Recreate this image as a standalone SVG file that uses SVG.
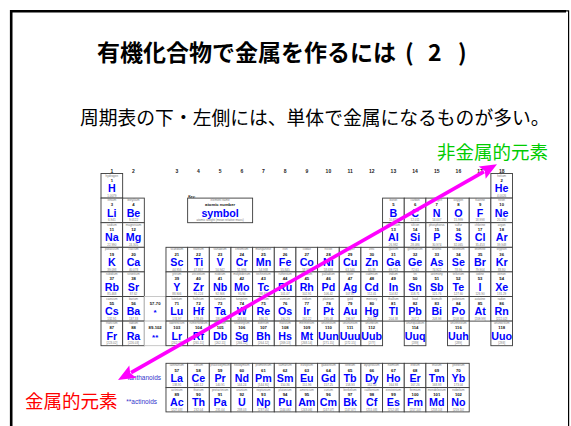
<svg xmlns="http://www.w3.org/2000/svg" width="571" height="426" viewBox="0 0 571 426">
<style>
.c{fill:#fff;stroke:#3a3a3a;stroke-width:0.9}
.cl{fill:#fff;stroke:#bbb;stroke-width:0.8}
text{font-family:"Liberation Sans",Arial,sans-serif;text-anchor:middle}
.n{font-size:3px;fill:#777}
.m{font-size:3px;fill:#777}
.z{font-size:4.2px;font-weight:bold;fill:#111}
.s{font-size:10.7px;font-weight:bold;fill:#0000ff}
.g{font-size:5px;font-weight:bold;fill:#222}
.st{font-size:5px;fill:#222}
.lab{font-size:6.5px;fill:#3333cc}
.jp{font-family:"Noto Sans CJK JP","Noto Sans CJK SC",sans-serif;text-anchor:start}
</style>
<defs>
<marker id="ah" markerUnits="userSpaceOnUse" markerWidth="18" markerHeight="14" refX="2" refY="7" orient="auto-start-reverse" overflow="visible">
<path d="M0,0 L17,7 L0,14 L3,7 z" fill="#ff00ff"/>
</marker>
</defs>
<g id="frame" fill="none" stroke="#000">
<path d="M11.2,426 V11.2 H566" stroke-width="2.6"/>
<path d="M566,10.8 H568.6 V426" stroke-width="1.2"/>
</g>
<g id="title"><text class="jp" x="97" y="61" font-size="23" font-weight="bold" fill="#000">有機化合物で金属を作るには<tspan x="405">(</tspan><tspan x="428">2</tspan><tspan x="458">)</tspan></text></g>
<g id="subtitle"><text class="jp" x="80" y="125" font-size="18.8" fill="#000">周期表の下・左側には、単体で金属になるものが多い。</text></g>
<g id="groups">
<text class="g" x="111.8" y="172.8">1</text><text class="g" x="133.5" y="172.8">2</text><text class="g" x="176.8" y="172.8">3</text><text class="g" x="198.5" y="172.8">4</text><text class="g" x="220.1" y="172.8">5</text><text class="g" x="241.8" y="172.8">6</text><text class="g" x="263.5" y="172.8">7</text><text class="g" x="285.1" y="172.8">8</text><text class="g" x="306.8" y="172.8">9</text><text class="g" x="328.4" y="172.8">10</text><text class="g" x="350.1" y="172.8">11</text><text class="g" x="371.8" y="172.8">12</text><text class="g" x="393.4" y="172.8">13</text><text class="g" x="415.1" y="172.8">14</text><text class="g" x="436.7" y="172.8">15</text><text class="g" x="458.4" y="172.8">16</text><text class="g" x="480.1" y="172.8">17</text><text class="g" x="501.7" y="172.8">18</text>
</g>
<g id="key" transform="translate(187.64,198.1)">
<text class="st" x="0.5" y="0" style="text-anchor:start;font-size:3.4px;font-weight:bold">Key:</text>
<rect class="c" width="64.98" height="24.6"/>
<text class="n" x="32.5" y="3">element name</text>
<text class="z" x="32.5" y="8.3">atomic number</text>
<text class="s" x="32.5" y="19.2">symbol</text>
<text class="m" x="32.5" y="23.3">atomic weight (mean relative mass)</text>
</g>
<g id="periodic-table">
<g id="H" transform="translate(101,173.5)"><rect class="c" width="21.66" height="24.6"/><text class="n" x="10.83" y="3">hydrogen</text><text class="z" x="10.83" y="8.3">1</text><text class="s" x="10.83" y="18.7">H</text><text class="m" x="10.83" y="23.3">1.0079</text></g>
<g id="He" transform="translate(490.88,173.5)"><rect class="c" width="21.66" height="24.6"/><text class="n" x="10.83" y="3">helium</text><text class="z" x="10.83" y="8.3">2</text><text class="s" x="10.83" y="18.7">He</text><text class="m" x="10.83" y="23.3">4.0026</text></g>
<g id="Li" transform="translate(101,198.1)"><rect class="c" width="21.66" height="24.6"/><text class="n" x="10.83" y="3">lithium</text><text class="z" x="10.83" y="8.3">3</text><text class="s" x="10.83" y="18.7">Li</text><text class="m" x="10.83" y="23.3">6.941</text></g>
<g id="Be" transform="translate(122.66,198.1)"><rect class="c" width="21.66" height="24.6"/><text class="n" x="10.83" y="3">beryllium</text><text class="z" x="10.83" y="8.3">4</text><text class="s" x="10.83" y="18.7">Be</text><text class="m" x="10.83" y="23.3">9.0122</text></g>
<g id="B" transform="translate(382.58,198.1)"><rect class="c" width="21.66" height="24.6"/><text class="n" x="10.83" y="3">boron</text><text class="z" x="10.83" y="8.3">5</text><text class="s" x="10.83" y="18.7">B</text><text class="m" x="10.83" y="23.3">10.811</text></g>
<g id="C" transform="translate(404.24,198.1)"><rect class="c" width="21.66" height="24.6"/><text class="n" x="10.83" y="3">carbon</text><text class="z" x="10.83" y="8.3">6</text><text class="s" x="10.83" y="18.7">C</text><text class="m" x="10.83" y="23.3">12.011</text></g>
<g id="N" transform="translate(425.9,198.1)"><rect class="c" width="21.66" height="24.6"/><text class="n" x="10.83" y="3">nitrogen</text><text class="z" x="10.83" y="8.3">7</text><text class="s" x="10.83" y="18.7">N</text><text class="m" x="10.83" y="23.3">14.007</text></g>
<g id="O" transform="translate(447.56,198.1)"><rect class="c" width="21.66" height="24.6"/><text class="n" x="10.83" y="3">oxygen</text><text class="z" x="10.83" y="8.3">8</text><text class="s" x="10.83" y="18.7">O</text><text class="m" x="10.83" y="23.3">15.999</text></g>
<g id="F" transform="translate(469.22,198.1)"><rect class="c" width="21.66" height="24.6"/><text class="n" x="10.83" y="3">fluorine</text><text class="z" x="10.83" y="8.3">9</text><text class="s" x="10.83" y="18.7">F</text><text class="m" x="10.83" y="23.3">18.998</text></g>
<g id="Ne" transform="translate(490.88,198.1)"><rect class="c" width="21.66" height="24.6"/><text class="n" x="10.83" y="3">neon</text><text class="z" x="10.83" y="8.3">10</text><text class="s" x="10.83" y="18.7">Ne</text><text class="m" x="10.83" y="23.3">20.180</text></g>
<g id="Na" transform="translate(101,222.7)"><rect class="c" width="21.66" height="24.6"/><text class="n" x="10.83" y="3">sodium</text><text class="z" x="10.83" y="8.3">11</text><text class="s" x="10.83" y="18.7">Na</text><text class="m" x="10.83" y="23.3">22.990</text></g>
<g id="Mg" transform="translate(122.66,222.7)"><rect class="c" width="21.66" height="24.6"/><text class="n" x="10.83" y="3">magnesium</text><text class="z" x="10.83" y="8.3">12</text><text class="s" x="10.83" y="18.7">Mg</text><text class="m" x="10.83" y="23.3">24.305</text></g>
<g id="Al" transform="translate(382.58,222.7)"><rect class="c" width="21.66" height="24.6"/><text class="n" x="10.83" y="3">aluminium</text><text class="z" x="10.83" y="8.3">13</text><text class="s" x="10.83" y="18.7">Al</text><text class="m" x="10.83" y="23.3">26.982</text></g>
<g id="Si" transform="translate(404.24,222.7)"><rect class="c" width="21.66" height="24.6"/><text class="n" x="10.83" y="3">silicon</text><text class="z" x="10.83" y="8.3">14</text><text class="s" x="10.83" y="18.7">Si</text><text class="m" x="10.83" y="23.3">28.086</text></g>
<g id="P" transform="translate(425.9,222.7)"><rect class="c" width="21.66" height="24.6"/><text class="n" x="10.83" y="3">phosphorus</text><text class="z" x="10.83" y="8.3">15</text><text class="s" x="10.83" y="18.7">P</text><text class="m" x="10.83" y="23.3">30.974</text></g>
<g id="S" transform="translate(447.56,222.7)"><rect class="c" width="21.66" height="24.6"/><text class="n" x="10.83" y="3">sulfur</text><text class="z" x="10.83" y="8.3">16</text><text class="s" x="10.83" y="18.7">S</text><text class="m" x="10.83" y="23.3">32.065</text></g>
<g id="Cl" transform="translate(469.22,222.7)"><rect class="c" width="21.66" height="24.6"/><text class="n" x="10.83" y="3">chlorine</text><text class="z" x="10.83" y="8.3">17</text><text class="s" x="10.83" y="18.7">Cl</text><text class="m" x="10.83" y="23.3">35.453</text></g>
<g id="Ar" transform="translate(490.88,222.7)"><rect class="c" width="21.66" height="24.6"/><text class="n" x="10.83" y="3">argon</text><text class="z" x="10.83" y="8.3">18</text><text class="s" x="10.83" y="18.7">Ar</text><text class="m" x="10.83" y="23.3">39.948</text></g>
<g id="K" transform="translate(101,247.3)"><rect class="c" width="21.66" height="24.6"/><text class="n" x="10.83" y="3">potassium</text><text class="z" x="10.83" y="8.3">19</text><text class="s" x="10.83" y="18.7">K</text><text class="m" x="10.83" y="23.3">39.098</text></g>
<g id="Ca" transform="translate(122.66,247.3)"><rect class="c" width="21.66" height="24.6"/><text class="n" x="10.83" y="3">calcium</text><text class="z" x="10.83" y="8.3">20</text><text class="s" x="10.83" y="18.7">Ca</text><text class="m" x="10.83" y="23.3">40.078</text></g>
<g id="Sc" transform="translate(165.98,247.3)"><rect class="c" width="21.66" height="24.6"/><text class="n" x="10.83" y="3">scandium</text><text class="z" x="10.83" y="8.3">21</text><text class="s" x="10.83" y="18.7">Sc</text><text class="m" x="10.83" y="23.3">44.956</text></g>
<g id="Ti" transform="translate(187.64,247.3)"><rect class="c" width="21.66" height="24.6"/><text class="n" x="10.83" y="3">titanium</text><text class="z" x="10.83" y="8.3">22</text><text class="s" x="10.83" y="18.7">Ti</text><text class="m" x="10.83" y="23.3">47.867</text></g>
<g id="V" transform="translate(209.3,247.3)"><rect class="c" width="21.66" height="24.6"/><text class="n" x="10.83" y="3">vanadium</text><text class="z" x="10.83" y="8.3">23</text><text class="s" x="10.83" y="18.7">V</text><text class="m" x="10.83" y="23.3">50.942</text></g>
<g id="Cr" transform="translate(230.96,247.3)"><rect class="c" width="21.66" height="24.6"/><text class="n" x="10.83" y="3">chromium</text><text class="z" x="10.83" y="8.3">24</text><text class="s" x="10.83" y="18.7">Cr</text><text class="m" x="10.83" y="23.3">51.996</text></g>
<g id="Mn" transform="translate(252.62,247.3)"><rect class="c" width="21.66" height="24.6"/><text class="n" x="10.83" y="3">manganese</text><text class="z" x="10.83" y="8.3">25</text><text class="s" x="10.83" y="18.7">Mn</text><text class="m" x="10.83" y="23.3">54.938</text></g>
<g id="Fe" transform="translate(274.28,247.3)"><rect class="c" width="21.66" height="24.6"/><text class="n" x="10.83" y="3">iron</text><text class="z" x="10.83" y="8.3">26</text><text class="s" x="10.83" y="18.7">Fe</text><text class="m" x="10.83" y="23.3">55.845</text></g>
<g id="Co" transform="translate(295.94,247.3)"><rect class="c" width="21.66" height="24.6"/><text class="n" x="10.83" y="3">cobalt</text><text class="z" x="10.83" y="8.3">27</text><text class="s" x="10.83" y="18.7">Co</text><text class="m" x="10.83" y="23.3">58.933</text></g>
<g id="Ni" transform="translate(317.6,247.3)"><rect class="c" width="21.66" height="24.6"/><text class="n" x="10.83" y="3">nickel</text><text class="z" x="10.83" y="8.3">28</text><text class="s" x="10.83" y="18.7">Ni</text><text class="m" x="10.83" y="23.3">58.693</text></g>
<g id="Cu" transform="translate(339.26,247.3)"><rect class="c" width="21.66" height="24.6"/><text class="n" x="10.83" y="3">copper</text><text class="z" x="10.83" y="8.3">29</text><text class="s" x="10.83" y="18.7">Cu</text><text class="m" x="10.83" y="23.3">63.546</text></g>
<g id="Zn" transform="translate(360.92,247.3)"><rect class="c" width="21.66" height="24.6"/><text class="n" x="10.83" y="3">zinc</text><text class="z" x="10.83" y="8.3">30</text><text class="s" x="10.83" y="18.7">Zn</text><text class="m" x="10.83" y="23.3">65.39</text></g>
<g id="Ga" transform="translate(382.58,247.3)"><rect class="c" width="21.66" height="24.6"/><text class="n" x="10.83" y="3">gallium</text><text class="z" x="10.83" y="8.3">31</text><text class="s" x="10.83" y="18.7">Ga</text><text class="m" x="10.83" y="23.3">69.723</text></g>
<g id="Ge" transform="translate(404.24,247.3)"><rect class="c" width="21.66" height="24.6"/><text class="n" x="10.83" y="3">germanium</text><text class="z" x="10.83" y="8.3">32</text><text class="s" x="10.83" y="18.7">Ge</text><text class="m" x="10.83" y="23.3">72.61</text></g>
<g id="As" transform="translate(425.9,247.3)"><rect class="c" width="21.66" height="24.6"/><text class="n" x="10.83" y="3">arsenic</text><text class="z" x="10.83" y="8.3">33</text><text class="s" x="10.83" y="18.7">As</text><text class="m" x="10.83" y="23.3">74.922</text></g>
<g id="Se" transform="translate(447.56,247.3)"><rect class="c" width="21.66" height="24.6"/><text class="n" x="10.83" y="3">selenium</text><text class="z" x="10.83" y="8.3">34</text><text class="s" x="10.83" y="18.7">Se</text><text class="m" x="10.83" y="23.3">78.96</text></g>
<g id="Br" transform="translate(469.22,247.3)"><rect class="c" width="21.66" height="24.6"/><text class="n" x="10.83" y="3">bromine</text><text class="z" x="10.83" y="8.3">35</text><text class="s" x="10.83" y="18.7">Br</text><text class="m" x="10.83" y="23.3">79.904</text></g>
<g id="Kr" transform="translate(490.88,247.3)"><rect class="c" width="21.66" height="24.6"/><text class="n" x="10.83" y="3">krypton</text><text class="z" x="10.83" y="8.3">36</text><text class="s" x="10.83" y="18.7">Kr</text><text class="m" x="10.83" y="23.3">83.80</text></g>
<g id="Rb" transform="translate(101,271.9)"><rect class="c" width="21.66" height="24.6"/><text class="n" x="10.83" y="3">rubidium</text><text class="z" x="10.83" y="8.3">37</text><text class="s" x="10.83" y="18.7">Rb</text><text class="m" x="10.83" y="23.3">85.468</text></g>
<g id="Sr" transform="translate(122.66,271.9)"><rect class="c" width="21.66" height="24.6"/><text class="n" x="10.83" y="3">strontium</text><text class="z" x="10.83" y="8.3">38</text><text class="s" x="10.83" y="18.7">Sr</text><text class="m" x="10.83" y="23.3">87.62</text></g>
<g id="Y" transform="translate(165.98,271.9)"><rect class="c" width="21.66" height="24.6"/><text class="n" x="10.83" y="3">yttrium</text><text class="z" x="10.83" y="8.3">39</text><text class="s" x="10.83" y="18.7">Y</text><text class="m" x="10.83" y="23.3">88.906</text></g>
<g id="Zr" transform="translate(187.64,271.9)"><rect class="c" width="21.66" height="24.6"/><text class="n" x="10.83" y="3">zirconium</text><text class="z" x="10.83" y="8.3">40</text><text class="s" x="10.83" y="18.7">Zr</text><text class="m" x="10.83" y="23.3">91.224</text></g>
<g id="Nb" transform="translate(209.3,271.9)"><rect class="c" width="21.66" height="24.6"/><text class="n" x="10.83" y="3">niobium</text><text class="z" x="10.83" y="8.3">41</text><text class="s" x="10.83" y="18.7">Nb</text><text class="m" x="10.83" y="23.3">92.906</text></g>
<g id="Mo" transform="translate(230.96,271.9)"><rect class="c" width="21.66" height="24.6"/><text class="n" x="10.83" y="3">molybdenum</text><text class="z" x="10.83" y="8.3">42</text><text class="s" x="10.83" y="18.7">Mo</text><text class="m" x="10.83" y="23.3">95.94</text></g>
<g id="Tc" transform="translate(252.62,271.9)"><rect class="c" width="21.66" height="24.6"/><text class="n" x="10.83" y="3">technetium</text><text class="z" x="10.83" y="8.3">43</text><text class="s" x="10.83" y="18.7">Tc</text><text class="m" x="10.83" y="23.3">[98.91]</text></g>
<g id="Ru" transform="translate(274.28,271.9)"><rect class="c" width="21.66" height="24.6"/><text class="n" x="10.83" y="3">ruthenium</text><text class="z" x="10.83" y="8.3">44</text><text class="s" x="10.83" y="18.7">Ru</text><text class="m" x="10.83" y="23.3">101.07</text></g>
<g id="Rh" transform="translate(295.94,271.9)"><rect class="c" width="21.66" height="24.6"/><text class="n" x="10.83" y="3">rhodium</text><text class="z" x="10.83" y="8.3">45</text><text class="s" x="10.83" y="18.7">Rh</text><text class="m" x="10.83" y="23.3">102.91</text></g>
<g id="Pd" transform="translate(317.6,271.9)"><rect class="c" width="21.66" height="24.6"/><text class="n" x="10.83" y="3">palladium</text><text class="z" x="10.83" y="8.3">46</text><text class="s" x="10.83" y="18.7">Pd</text><text class="m" x="10.83" y="23.3">106.42</text></g>
<g id="Ag" transform="translate(339.26,271.9)"><rect class="c" width="21.66" height="24.6"/><text class="n" x="10.83" y="3">silver</text><text class="z" x="10.83" y="8.3">47</text><text class="s" x="10.83" y="18.7">Ag</text><text class="m" x="10.83" y="23.3">107.87</text></g>
<g id="Cd" transform="translate(360.92,271.9)"><rect class="c" width="21.66" height="24.6"/><text class="n" x="10.83" y="3">cadmium</text><text class="z" x="10.83" y="8.3">48</text><text class="s" x="10.83" y="18.7">Cd</text><text class="m" x="10.83" y="23.3">112.41</text></g>
<g id="In" transform="translate(382.58,271.9)"><rect class="c" width="21.66" height="24.6"/><text class="n" x="10.83" y="3">indium</text><text class="z" x="10.83" y="8.3">49</text><text class="s" x="10.83" y="18.7">In</text><text class="m" x="10.83" y="23.3">114.82</text></g>
<g id="Sn" transform="translate(404.24,271.9)"><rect class="c" width="21.66" height="24.6"/><text class="n" x="10.83" y="3">tin</text><text class="z" x="10.83" y="8.3">50</text><text class="s" x="10.83" y="18.7">Sn</text><text class="m" x="10.83" y="23.3">118.71</text></g>
<g id="Sb" transform="translate(425.9,271.9)"><rect class="c" width="21.66" height="24.6"/><text class="n" x="10.83" y="3">antimony</text><text class="z" x="10.83" y="8.3">51</text><text class="s" x="10.83" y="18.7">Sb</text><text class="m" x="10.83" y="23.3">121.76</text></g>
<g id="Te" transform="translate(447.56,271.9)"><rect class="c" width="21.66" height="24.6"/><text class="n" x="10.83" y="3">tellurium</text><text class="z" x="10.83" y="8.3">52</text><text class="s" x="10.83" y="18.7">Te</text><text class="m" x="10.83" y="23.3">127.60</text></g>
<g id="I" transform="translate(469.22,271.9)"><rect class="c" width="21.66" height="24.6"/><text class="n" x="10.83" y="3">iodine</text><text class="z" x="10.83" y="8.3">53</text><text class="s" x="10.83" y="18.7">I</text><text class="m" x="10.83" y="23.3">126.90</text></g>
<g id="Xe" transform="translate(490.88,271.9)"><rect class="c" width="21.66" height="24.6"/><text class="n" x="10.83" y="3">xenon</text><text class="z" x="10.83" y="8.3">54</text><text class="s" x="10.83" y="18.7">Xe</text><text class="m" x="10.83" y="23.3">131.29</text></g>
<g id="Cs" transform="translate(101,296.5)"><rect class="c" width="21.66" height="24.6"/><text class="n" x="10.83" y="3">caesium</text><text class="z" x="10.83" y="8.3">55</text><text class="s" x="10.83" y="18.7">Cs</text><text class="m" x="10.83" y="23.3">132.91</text></g>
<g id="Ba" transform="translate(122.66,296.5)"><rect class="c" width="21.66" height="24.6"/><text class="n" x="10.83" y="3">barium</text><text class="z" x="10.83" y="8.3">56</text><text class="s" x="10.83" y="18.7">Ba</text><text class="m" x="10.83" y="23.3">137.33</text></g>
<g id="lan-ref" transform="translate(144.32,296.5)"><rect class="cl" width="21.66" height="24.6"/><text class="z" x="10.83" y="8.3">57-70</text><text class="s" x="10.83" y="18.7" style="font-size:8px">*</text></g>
<g id="Lu" transform="translate(165.98,296.5)"><rect class="c" width="21.66" height="24.6"/><text class="n" x="10.83" y="3">lutetium</text><text class="z" x="10.83" y="8.3">71</text><text class="s" x="10.83" y="18.7">Lu</text><text class="m" x="10.83" y="23.3">174.97</text></g>
<g id="Hf" transform="translate(187.64,296.5)"><rect class="c" width="21.66" height="24.6"/><text class="n" x="10.83" y="3">hafnium</text><text class="z" x="10.83" y="8.3">72</text><text class="s" x="10.83" y="18.7">Hf</text><text class="m" x="10.83" y="23.3">178.49</text></g>
<g id="Ta" transform="translate(209.3,296.5)"><rect class="c" width="21.66" height="24.6"/><text class="n" x="10.83" y="3">tantalum</text><text class="z" x="10.83" y="8.3">73</text><text class="s" x="10.83" y="18.7">Ta</text><text class="m" x="10.83" y="23.3">180.95</text></g>
<g id="W" transform="translate(230.96,296.5)"><rect class="c" width="21.66" height="24.6"/><text class="n" x="10.83" y="3">tungsten</text><text class="z" x="10.83" y="8.3">74</text><text class="s" x="10.83" y="18.7">W</text><text class="m" x="10.83" y="23.3">183.84</text></g>
<g id="Re" transform="translate(252.62,296.5)"><rect class="c" width="21.66" height="24.6"/><text class="n" x="10.83" y="3">rhenium</text><text class="z" x="10.83" y="8.3">75</text><text class="s" x="10.83" y="18.7">Re</text><text class="m" x="10.83" y="23.3">186.21</text></g>
<g id="Os" transform="translate(274.28,296.5)"><rect class="c" width="21.66" height="24.6"/><text class="n" x="10.83" y="3">osmium</text><text class="z" x="10.83" y="8.3">76</text><text class="s" x="10.83" y="18.7">Os</text><text class="m" x="10.83" y="23.3">190.23</text></g>
<g id="Ir" transform="translate(295.94,296.5)"><rect class="c" width="21.66" height="24.6"/><text class="n" x="10.83" y="3">iridium</text><text class="z" x="10.83" y="8.3">77</text><text class="s" x="10.83" y="18.7">Ir</text><text class="m" x="10.83" y="23.3">192.22</text></g>
<g id="Pt" transform="translate(317.6,296.5)"><rect class="c" width="21.66" height="24.6"/><text class="n" x="10.83" y="3">platinum</text><text class="z" x="10.83" y="8.3">78</text><text class="s" x="10.83" y="18.7">Pt</text><text class="m" x="10.83" y="23.3">195.08</text></g>
<g id="Au" transform="translate(339.26,296.5)"><rect class="c" width="21.66" height="24.6"/><text class="n" x="10.83" y="3">gold</text><text class="z" x="10.83" y="8.3">79</text><text class="s" x="10.83" y="18.7">Au</text><text class="m" x="10.83" y="23.3">196.97</text></g>
<g id="Hg" transform="translate(360.92,296.5)"><rect class="c" width="21.66" height="24.6"/><text class="n" x="10.83" y="3">mercury</text><text class="z" x="10.83" y="8.3">80</text><text class="s" x="10.83" y="18.7">Hg</text><text class="m" x="10.83" y="23.3">200.59</text></g>
<g id="Tl" transform="translate(382.58,296.5)"><rect class="c" width="21.66" height="24.6"/><text class="n" x="10.83" y="3">thallium</text><text class="z" x="10.83" y="8.3">81</text><text class="s" x="10.83" y="18.7">Tl</text><text class="m" x="10.83" y="23.3">204.38</text></g>
<g id="Pb" transform="translate(404.24,296.5)"><rect class="c" width="21.66" height="24.6"/><text class="n" x="10.83" y="3">lead</text><text class="z" x="10.83" y="8.3">82</text><text class="s" x="10.83" y="18.7">Pb</text><text class="m" x="10.83" y="23.3">207.2</text></g>
<g id="Bi" transform="translate(425.9,296.5)"><rect class="c" width="21.66" height="24.6"/><text class="n" x="10.83" y="3">bismuth</text><text class="z" x="10.83" y="8.3">83</text><text class="s" x="10.83" y="18.7">Bi</text><text class="m" x="10.83" y="23.3">208.98</text></g>
<g id="Po" transform="translate(447.56,296.5)"><rect class="c" width="21.66" height="24.6"/><text class="n" x="10.83" y="3">polonium</text><text class="z" x="10.83" y="8.3">84</text><text class="s" x="10.83" y="18.7">Po</text><text class="m" x="10.83" y="23.3">[208.98]</text></g>
<g id="At" transform="translate(469.22,296.5)"><rect class="c" width="21.66" height="24.6"/><text class="n" x="10.83" y="3">astatine</text><text class="z" x="10.83" y="8.3">85</text><text class="s" x="10.83" y="18.7">At</text><text class="m" x="10.83" y="23.3">[209.99]</text></g>
<g id="Rn" transform="translate(490.88,296.5)"><rect class="c" width="21.66" height="24.6"/><text class="n" x="10.83" y="3">radon</text><text class="z" x="10.83" y="8.3">86</text><text class="s" x="10.83" y="18.7">Rn</text><text class="m" x="10.83" y="23.3">[222.02]</text></g>
<g id="Fr" transform="translate(101,321.1)"><rect class="c" width="21.66" height="24.6"/><text class="n" x="10.83" y="3">francium</text><text class="z" x="10.83" y="8.3">87</text><text class="s" x="10.83" y="18.7">Fr</text><text class="m" x="10.83" y="23.3">[223.02]</text></g>
<g id="Ra" transform="translate(122.66,321.1)"><rect class="c" width="21.66" height="24.6"/><text class="n" x="10.83" y="3">radium</text><text class="z" x="10.83" y="8.3">88</text><text class="s" x="10.83" y="18.7">Ra</text><text class="m" x="10.83" y="23.3">[226.03]</text></g>
<g id="act-ref" transform="translate(144.32,321.1)"><rect class="cl" width="21.66" height="24.6"/><text class="z" x="10.83" y="8.3">89-102</text><text class="s" x="10.83" y="18.7" style="font-size:8px">**</text></g>
<g id="Lr" transform="translate(165.98,321.1)"><rect class="c" width="21.66" height="24.6"/><text class="n" x="10.83" y="3">lawrencium</text><text class="z" x="10.83" y="8.3">103</text><text class="s" x="10.83" y="18.7">Lr</text><text class="m" x="10.83" y="23.3">[262.11]</text></g>
<g id="Rf" transform="translate(187.64,321.1)"><rect class="c" width="21.66" height="24.6"/><text class="n" x="10.83" y="3">rutherfordium</text><text class="z" x="10.83" y="8.3">104</text><text class="s" x="10.83" y="18.7">Rf</text><text class="m" x="10.83" y="23.3">[261.11]</text></g>
<g id="Db" transform="translate(209.3,321.1)"><rect class="c" width="21.66" height="24.6"/><text class="n" x="10.83" y="3">dubnium</text><text class="z" x="10.83" y="8.3">105</text><text class="s" x="10.83" y="18.7">Db</text><text class="m" x="10.83" y="23.3">[262.11]</text></g>
<g id="Sg" transform="translate(230.96,321.1)"><rect class="c" width="21.66" height="24.6"/><text class="n" x="10.83" y="3">seaborgium</text><text class="z" x="10.83" y="8.3">106</text><text class="s" x="10.83" y="18.7">Sg</text><text class="m" x="10.83" y="23.3">[266.12]</text></g>
<g id="Bh" transform="translate(252.62,321.1)"><rect class="c" width="21.66" height="24.6"/><text class="n" x="10.83" y="3">bohrium</text><text class="z" x="10.83" y="8.3">107</text><text class="s" x="10.83" y="18.7">Bh</text><text class="m" x="10.83" y="23.3">[264.12]</text></g>
<g id="Hs" transform="translate(274.28,321.1)"><rect class="c" width="21.66" height="24.6"/><text class="n" x="10.83" y="3">hassium</text><text class="z" x="10.83" y="8.3">108</text><text class="s" x="10.83" y="18.7">Hs</text><text class="m" x="10.83" y="23.3">[269.13]</text></g>
<g id="Mt" transform="translate(295.94,321.1)"><rect class="c" width="21.66" height="24.6"/><text class="n" x="10.83" y="3">meitnerium</text><text class="z" x="10.83" y="8.3">109</text><text class="s" x="10.83" y="18.7">Mt</text><text class="m" x="10.83" y="23.3">[268.14]</text></g>
<g id="Uun" transform="translate(317.6,321.1)"><rect class="c" width="21.66" height="24.6"/><text class="n" x="10.83" y="3">ununnilium</text><text class="z" x="10.83" y="8.3">110</text><text class="s" x="10.83" y="18.7">Uun</text><text class="m" x="10.83" y="23.3">[271.15]</text></g>
<g id="Uuu" transform="translate(339.26,321.1)"><rect class="c" width="21.66" height="24.6"/><text class="n" x="10.83" y="3">unununium</text><text class="z" x="10.83" y="8.3">111</text><text class="s" x="10.83" y="18.7">Uuu</text><text class="m" x="10.83" y="23.3">[272.15]</text></g>
<g id="Uub" transform="translate(360.92,321.1)"><rect class="c" width="21.66" height="24.6"/><text class="n" x="10.83" y="3">ununbium</text><text class="z" x="10.83" y="8.3">112</text><text class="s" x="10.83" y="18.7">Uub</text><text class="m" x="10.83" y="23.3">[277]</text></g>
<g id="Uuq" transform="translate(404.24,321.1)"><rect class="c" width="21.66" height="24.6"/><text class="n" x="10.83" y="3">ununquadium</text><text class="z" x="10.83" y="8.3">114</text><text class="s" x="10.83" y="18.7">Uuq</text><text class="m" x="10.83" y="23.3">[289]</text></g>
<g id="Uuh" transform="translate(447.56,321.1)"><rect class="c" width="21.66" height="24.6"/><text class="n" x="10.83" y="3">ununhexium</text><text class="z" x="10.83" y="8.3">116</text><text class="s" x="10.83" y="18.7">Uuh</text><text class="m" x="10.83" y="23.3">[289]</text></g>
<g id="Uuo" transform="translate(490.88,321.1)"><rect class="c" width="21.66" height="24.6"/><text class="n" x="10.83" y="3">ununoctium</text><text class="z" x="10.83" y="8.3">118</text><text class="s" x="10.83" y="18.7">Uuo</text><text class="m" x="10.83" y="23.3">[293]</text></g>
</g>
<g id="f-block">
<g id="La" transform="translate(165.98,363.3)"><rect class="c" width="21.66" height="24.3"/><text class="n" x="10.83" y="3">lanthanum</text><text class="z" x="10.83" y="8.3">57</text><text class="s" x="10.83" y="18.5">La</text><text class="m" x="10.83" y="23">138.91</text></g>
<g id="Ce" transform="translate(187.64,363.3)"><rect class="c" width="21.66" height="24.3"/><text class="n" x="10.83" y="3">cerium</text><text class="z" x="10.83" y="8.3">58</text><text class="s" x="10.83" y="18.5">Ce</text><text class="m" x="10.83" y="23">140.12</text></g>
<g id="Pr" transform="translate(209.3,363.3)"><rect class="c" width="21.66" height="24.3"/><text class="n" x="10.83" y="3">praseodymium</text><text class="z" x="10.83" y="8.3">59</text><text class="s" x="10.83" y="18.5">Pr</text><text class="m" x="10.83" y="23">140.91</text></g>
<g id="Nd" transform="translate(230.96,363.3)"><rect class="c" width="21.66" height="24.3"/><text class="n" x="10.83" y="3">neodymium</text><text class="z" x="10.83" y="8.3">60</text><text class="s" x="10.83" y="18.5">Nd</text><text class="m" x="10.83" y="23">144.24</text></g>
<g id="Pm" transform="translate(252.62,363.3)"><rect class="c" width="21.66" height="24.3"/><text class="n" x="10.83" y="3">promethium</text><text class="z" x="10.83" y="8.3">61</text><text class="s" x="10.83" y="18.5">Pm</text><text class="m" x="10.83" y="23">[144.91]</text></g>
<g id="Sm" transform="translate(274.28,363.3)"><rect class="c" width="21.66" height="24.3"/><text class="n" x="10.83" y="3">samarium</text><text class="z" x="10.83" y="8.3">62</text><text class="s" x="10.83" y="18.5">Sm</text><text class="m" x="10.83" y="23">150.36</text></g>
<g id="Eu" transform="translate(295.94,363.3)"><rect class="c" width="21.66" height="24.3"/><text class="n" x="10.83" y="3">europium</text><text class="z" x="10.83" y="8.3">63</text><text class="s" x="10.83" y="18.5">Eu</text><text class="m" x="10.83" y="23">151.96</text></g>
<g id="Gd" transform="translate(317.6,363.3)"><rect class="c" width="21.66" height="24.3"/><text class="n" x="10.83" y="3">gadolinium</text><text class="z" x="10.83" y="8.3">64</text><text class="s" x="10.83" y="18.5">Gd</text><text class="m" x="10.83" y="23">157.25</text></g>
<g id="Tb" transform="translate(339.26,363.3)"><rect class="c" width="21.66" height="24.3"/><text class="n" x="10.83" y="3">terbium</text><text class="z" x="10.83" y="8.3">65</text><text class="s" x="10.83" y="18.5">Tb</text><text class="m" x="10.83" y="23">158.93</text></g>
<g id="Dy" transform="translate(360.92,363.3)"><rect class="c" width="21.66" height="24.3"/><text class="n" x="10.83" y="3">dysprosium</text><text class="z" x="10.83" y="8.3">66</text><text class="s" x="10.83" y="18.5">Dy</text><text class="m" x="10.83" y="23">162.50</text></g>
<g id="Ho" transform="translate(382.58,363.3)"><rect class="c" width="21.66" height="24.3"/><text class="n" x="10.83" y="3">holmium</text><text class="z" x="10.83" y="8.3">67</text><text class="s" x="10.83" y="18.5">Ho</text><text class="m" x="10.83" y="23">164.93</text></g>
<g id="Er" transform="translate(404.24,363.3)"><rect class="c" width="21.66" height="24.3"/><text class="n" x="10.83" y="3">erbium</text><text class="z" x="10.83" y="8.3">68</text><text class="s" x="10.83" y="18.5">Er</text><text class="m" x="10.83" y="23">167.26</text></g>
<g id="Tm" transform="translate(425.9,363.3)"><rect class="c" width="21.66" height="24.3"/><text class="n" x="10.83" y="3">thulium</text><text class="z" x="10.83" y="8.3">69</text><text class="s" x="10.83" y="18.5">Tm</text><text class="m" x="10.83" y="23">168.93</text></g>
<g id="Yb" transform="translate(447.56,363.3)"><rect class="c" width="21.66" height="24.3"/><text class="n" x="10.83" y="3">ytterbium</text><text class="z" x="10.83" y="8.3">70</text><text class="s" x="10.83" y="18.5">Yb</text><text class="m" x="10.83" y="23">173.04</text></g>
<g id="Ac" transform="translate(165.98,387.6)"><rect class="c" width="21.66" height="24.3"/><text class="n" x="10.83" y="3">actinium</text><text class="z" x="10.83" y="8.3">89</text><text class="s" x="10.83" y="18.5">Ac</text><text class="m" x="10.83" y="23">[227.03]</text></g>
<g id="Th" transform="translate(187.64,387.6)"><rect class="c" width="21.66" height="24.3"/><text class="n" x="10.83" y="3">thorium</text><text class="z" x="10.83" y="8.3">90</text><text class="s" x="10.83" y="18.5">Th</text><text class="m" x="10.83" y="23">232.04</text></g>
<g id="Pa" transform="translate(209.3,387.6)"><rect class="c" width="21.66" height="24.3"/><text class="n" x="10.83" y="3">protactinium</text><text class="z" x="10.83" y="8.3">91</text><text class="s" x="10.83" y="18.5">Pa</text><text class="m" x="10.83" y="23">231.04</text></g>
<g id="U" transform="translate(230.96,387.6)"><rect class="c" width="21.66" height="24.3"/><text class="n" x="10.83" y="3">uranium</text><text class="z" x="10.83" y="8.3">92</text><text class="s" x="10.83" y="18.5">U</text><text class="m" x="10.83" y="23">238.03</text></g>
<g id="Np" transform="translate(252.62,387.6)"><rect class="c" width="21.66" height="24.3"/><text class="n" x="10.83" y="3">neptunium</text><text class="z" x="10.83" y="8.3">93</text><text class="s" x="10.83" y="18.5">Np</text><text class="m" x="10.83" y="23">[237.05]</text></g>
<g id="Pu" transform="translate(274.28,387.6)"><rect class="c" width="21.66" height="24.3"/><text class="n" x="10.83" y="3">plutonium</text><text class="z" x="10.83" y="8.3">94</text><text class="s" x="10.83" y="18.5">Pu</text><text class="m" x="10.83" y="23">[244.06]</text></g>
<g id="Am" transform="translate(295.94,387.6)"><rect class="c" width="21.66" height="24.3"/><text class="n" x="10.83" y="3">americium</text><text class="z" x="10.83" y="8.3">95</text><text class="s" x="10.83" y="18.5">Am</text><text class="m" x="10.83" y="23">[243.06]</text></g>
<g id="Cm" transform="translate(317.6,387.6)"><rect class="c" width="21.66" height="24.3"/><text class="n" x="10.83" y="3">curium</text><text class="z" x="10.83" y="8.3">96</text><text class="s" x="10.83" y="18.5">Cm</text><text class="m" x="10.83" y="23">[247.07]</text></g>
<g id="Bk" transform="translate(339.26,387.6)"><rect class="c" width="21.66" height="24.3"/><text class="n" x="10.83" y="3">berkelium</text><text class="z" x="10.83" y="8.3">97</text><text class="s" x="10.83" y="18.5">Bk</text><text class="m" x="10.83" y="23">[247.07]</text></g>
<g id="Cf" transform="translate(360.92,387.6)"><rect class="c" width="21.66" height="24.3"/><text class="n" x="10.83" y="3">californium</text><text class="z" x="10.83" y="8.3">98</text><text class="s" x="10.83" y="18.5">Cf</text><text class="m" x="10.83" y="23">[251.08]</text></g>
<g id="Es" transform="translate(382.58,387.6)"><rect class="c" width="21.66" height="24.3"/><text class="n" x="10.83" y="3">einsteinium</text><text class="z" x="10.83" y="8.3">99</text><text class="s" x="10.83" y="18.5">Es</text><text class="m" x="10.83" y="23">[252.08]</text></g>
<g id="Fm" transform="translate(404.24,387.6)"><rect class="c" width="21.66" height="24.3"/><text class="n" x="10.83" y="3">fermium</text><text class="z" x="10.83" y="8.3">100</text><text class="s" x="10.83" y="18.5">Fm</text><text class="m" x="10.83" y="23">[257.10]</text></g>
<g id="Md" transform="translate(425.9,387.6)"><rect class="c" width="21.66" height="24.3"/><text class="n" x="10.83" y="3">mendelevium</text><text class="z" x="10.83" y="8.3">101</text><text class="s" x="10.83" y="18.5">Md</text><text class="m" x="10.83" y="23">[258.10]</text></g>
<g id="No" transform="translate(447.56,387.6)"><rect class="c" width="21.66" height="24.3"/><text class="n" x="10.83" y="3">nobelium</text><text class="z" x="10.83" y="8.3">102</text><text class="s" x="10.83" y="18.5">No</text><text class="m" x="10.83" y="23">[259.10]</text></g>
<text class="lab" x="161" y="379.5" style="text-anchor:end">*lanthanoids</text>
<text class="lab" x="157" y="404" style="text-anchor:end">**actinoids</text>
</g>
<g id="connectors">
<path d="M131.03,372.57 L483.97,171.57" fill="none" stroke="#ff00ff" stroke-width="3.6" marker-start="url(#ah)" marker-end="url(#ah)"/>
</g>
<g id="label-nonmetal"><text class="jp" x="437" y="159" font-size="18.5" fill="#00cc00">非金属的元素</text></g>
<g id="label-metal"><text class="jp" x="25" y="407.5" font-size="18.5" fill="#ff0000">金属的元素</text></g>
</svg>
